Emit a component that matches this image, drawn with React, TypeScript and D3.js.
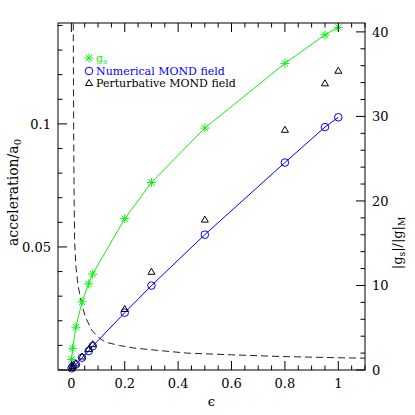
import React from 'react';
import * as d3 from 'd3';

// epsilon values of the computed models
const eps = [0.001, 0.005, 0.017, 0.04, 0.065, 0.08, 0.2, 0.3, 0.5, 0.8, 0.95, 1];
// g_s (green stars), in units of a0
const gs = [0.0043, 0.0088, 0.0174, 0.0277, 0.035, 0.039, 0.0615, 0.0762, 0.0983, 0.1246, 0.1362, 0.1392];
// numerical MOND field (blue circles)
const numerical = [0.0007, 0.0014, 0.0023, 0.005, 0.0077, 0.0097, 0.0233, 0.0343, 0.055, 0.0843, 0.0987, 0.1027];
// perturbative MOND field (triangles)
const pertEps = [0.001, 0.005, 0.017, 0.04, 0.065, 0.08, 0.2, 0.3, 0.5, 0.8, 0.95, 1];
const perturbative = [0.0008, 0.0016, 0.0027, 0.0055, 0.0085, 0.0105, 0.0248, 0.0399, 0.0611, 0.0976, 0.1165, 0.1216];
// |g_s|/|g|_M, right axis (dashed)
const ratioEps = [0.0072, 0.008, 0.009, 0.0105, 0.0125, 0.017, 0.025, 0.037, 0.052, 0.077, 0.1, 0.127, 0.18, 0.234, 0.33, 0.433, 0.6, 0.78, 1.0, 1.1];
const ratio = [41, 34, 27, 20, 15, 12.3, 10, 8.1, 6.3, 4.7, 3.9, 3.3, 2.9, 2.6, 2.3, 2.0, 1.8, 1.6, 1.45, 1.4];

const xTicks = [0, 0.2, 0.4, 0.6, 0.8, 1];
const xTickLabels = ['0', '0.2', '0.4', '0.6', '0.8', '1'];
const leftTicks = [0.05, 0.1];
const leftTickLabels = ['0.05', '0.1'];
const rightTicks = [0, 10, 20, 30, 40];

const GREEN = '#11ee11';
const BLUE = '#0000ff';
const FONT = "'DejaVu Serif', 'Liberation Serif', serif";

export default function App() {
  const margin = { left: 58, right: 50, top: 23, bottom: 45 };
  const W = 415, H = 415;
  const x0 = margin.left, x1 = W - margin.right, y0 = H - margin.bottom, y1 = margin.top;

  const x = d3.scaleLinear().domain([-0.05, 1.1]).range([x0, x1]);
  const yL = d3.scaleLinear().domain([0, 0.141]).range([y0, y1]);
  const yR = d3.scaleLinear().domain([0, 41.05]).range([y0, y1]);

  const line = (xs: number[], ys: number[], ys2: (v: number) => number) =>
    d3.line<number>().x((_, i) => x(xs[i])).y((v) => ys2(v))(ys) || '';

  const xMinor = d3.range(0, 1.101, 0.05).filter((v) => Math.abs(v / 0.2 - Math.round(v / 0.2)) > 1e-6);
  const lMinor = d3.range(0.01, 0.141, 0.01).filter((v) => Math.abs(v / 0.05 - Math.round(v / 0.05)) > 1e-6);
  const rMinor = d3.range(2, 41, 2).filter((v) => v % 10 !== 0);

  const star = (cx: number, cy: number, key: string | number) => {
    const r = 4.5, d = r * 0.7071;
    return (
      <g key={key} stroke={GREEN} strokeWidth={1}>
        <line x1={cx - r} y1={cy} x2={cx + r} y2={cy} />
        <line x1={cx} y1={cy - r} x2={cx} y2={cy + r} />
        <line x1={cx - d} y1={cy - d} x2={cx + d} y2={cy + d} />
        <line x1={cx - d} y1={cy + d} x2={cx + d} y2={cy - d} />
      </g>
    );
  };
  const tri = (cx: number, cy: number, key: string | number) => (
    <path key={key} d={`M${cx - 3.5},${cy + 2.5}L${cx + 3.5},${cy + 2.5}L${cx},${cy - 3.5}Z`} fill="none" stroke="#000" strokeWidth={1} />
  );

  return (
    <svg width={W} height={H} style={{ position: 'absolute', left: 0, top: 0, background: '#fff' }}>
      <rect width={W} height={H} fill="#fff" />
      {/* dashed ratio curve */}
      <path d={line(ratioEps, ratio, yR)} fill="none" stroke="#222" strokeWidth={1} strokeDasharray="7,4" />
      {/* g_s */}
      <path d={line(eps, gs, yL)} fill="none" stroke={GREEN} strokeWidth={1} />
      {eps.map((e, i) => star(x(e), yL(gs[i]), 's' + i))}
      {/* numerical */}
      <path d={line(eps, numerical, yL)} fill="none" stroke={BLUE} strokeWidth={1} />
      {eps.map((e, i) => (
        <circle key={'c' + i} cx={x(e)} cy={yL(numerical[i])} r={3.8} fill="none" stroke={BLUE} strokeWidth={1} />
      ))}
      {pertEps.map((e, i) => tri(x(e), yL(perturbative[i]), 't' + i))}

      {/* frame */}
      <rect x={x0} y={y1} width={x1 - x0} height={y0 - y1} fill="none" stroke="#000" strokeWidth={1} />
      <g stroke="#000" strokeWidth={1}>
        {xTicks.map((t) => (
          <g key={'xt' + t}>
            <line x1={x(t)} x2={x(t)} y1={y0} y2={y0 - 9} />
            <line x1={x(t)} x2={x(t)} y1={y1} y2={y1 + 9} />
          </g>
        ))}
        {xMinor.map((t) => (
          <g key={'xm' + t}>
            <line x1={x(t)} x2={x(t)} y1={y0} y2={y0 - 4.5} />
            <line x1={x(t)} x2={x(t)} y1={y1} y2={y1 + 4.5} />
          </g>
        ))}
        {[0, ...leftTicks].map((t) => (
          <line key={'lt' + t} x1={x0} x2={x0 + 9} y1={yL(t)} y2={yL(t)} />
        ))}
        {lMinor.map((t) => (
          <line key={'lm' + t} x1={x0} x2={x0 + 4.5} y1={yL(t)} y2={yL(t)} />
        ))}
        {rightTicks.map((t) => (
          <line key={'rt' + t} x1={x1} x2={x1 - 9} y1={yR(t)} y2={yR(t)} />
        ))}
        {rMinor.map((t) => (
          <line key={'rm' + t} x1={x1} x2={x1 - 4.5} y1={yR(t)} y2={yR(t)} />
        ))}
      </g>

      <g fontFamily={FONT} fontSize={13} fill="#000">
        {xTicks.map((t, i) => (
          <text key={'xl' + t} x={x(t)} y={y0 + 18} textAnchor="middle">{xTickLabels[i]}</text>
        ))}
        {leftTicks.map((t, i) => (
          <text key={'ll' + t} x={x0 - 7} y={yL(t) + 5} textAnchor="end">{leftTickLabels[i]}</text>
        ))}
        {rightTicks.map((t) => (
          <text key={'rl' + t} x={x1 + 7} y={yR(t) + 5} textAnchor="start">{t}</text>
        ))}
        <text x={(x0 + x1) / 2} y={y0 + 36} textAnchor="middle">ϵ</text>
        <text transform={`translate(18,${(y0 + y1) / 2 - 4}) rotate(-90)`} textAnchor="middle" fontSize={14}>
          acceleration/a<tspan fontSize={10} dy={3}>0</tspan>
        </text>
        <text transform={`translate(402,243) rotate(-90)`} textAnchor="middle">
          |g<tspan fontSize={9} dy={3}>s</tspan><tspan dy={-3}>|/|g|</tspan><tspan fontSize={9} dy={3}>M</tspan>
        </text>
      </g>

      {/* legend */}
      <g fontFamily={FONT} fontSize={11}>
        {star(89, 58, 'lg1')}
        <text x={96} y={62} fill={GREEN}>g<tspan fontSize={8} dy={2}>s</tspan></text>
        <circle cx={89} cy={71} r={3.8} fill="none" stroke={BLUE} strokeWidth={1} />
        <text x={96} y={75} fill={BLUE}>Numerical MOND field</text>
        {tri(89, 83, 'lg3')}
        <text x={96} y={87} fill="#000">Perturbative MOND field</text>
      </g>
    </svg>
  );
}
